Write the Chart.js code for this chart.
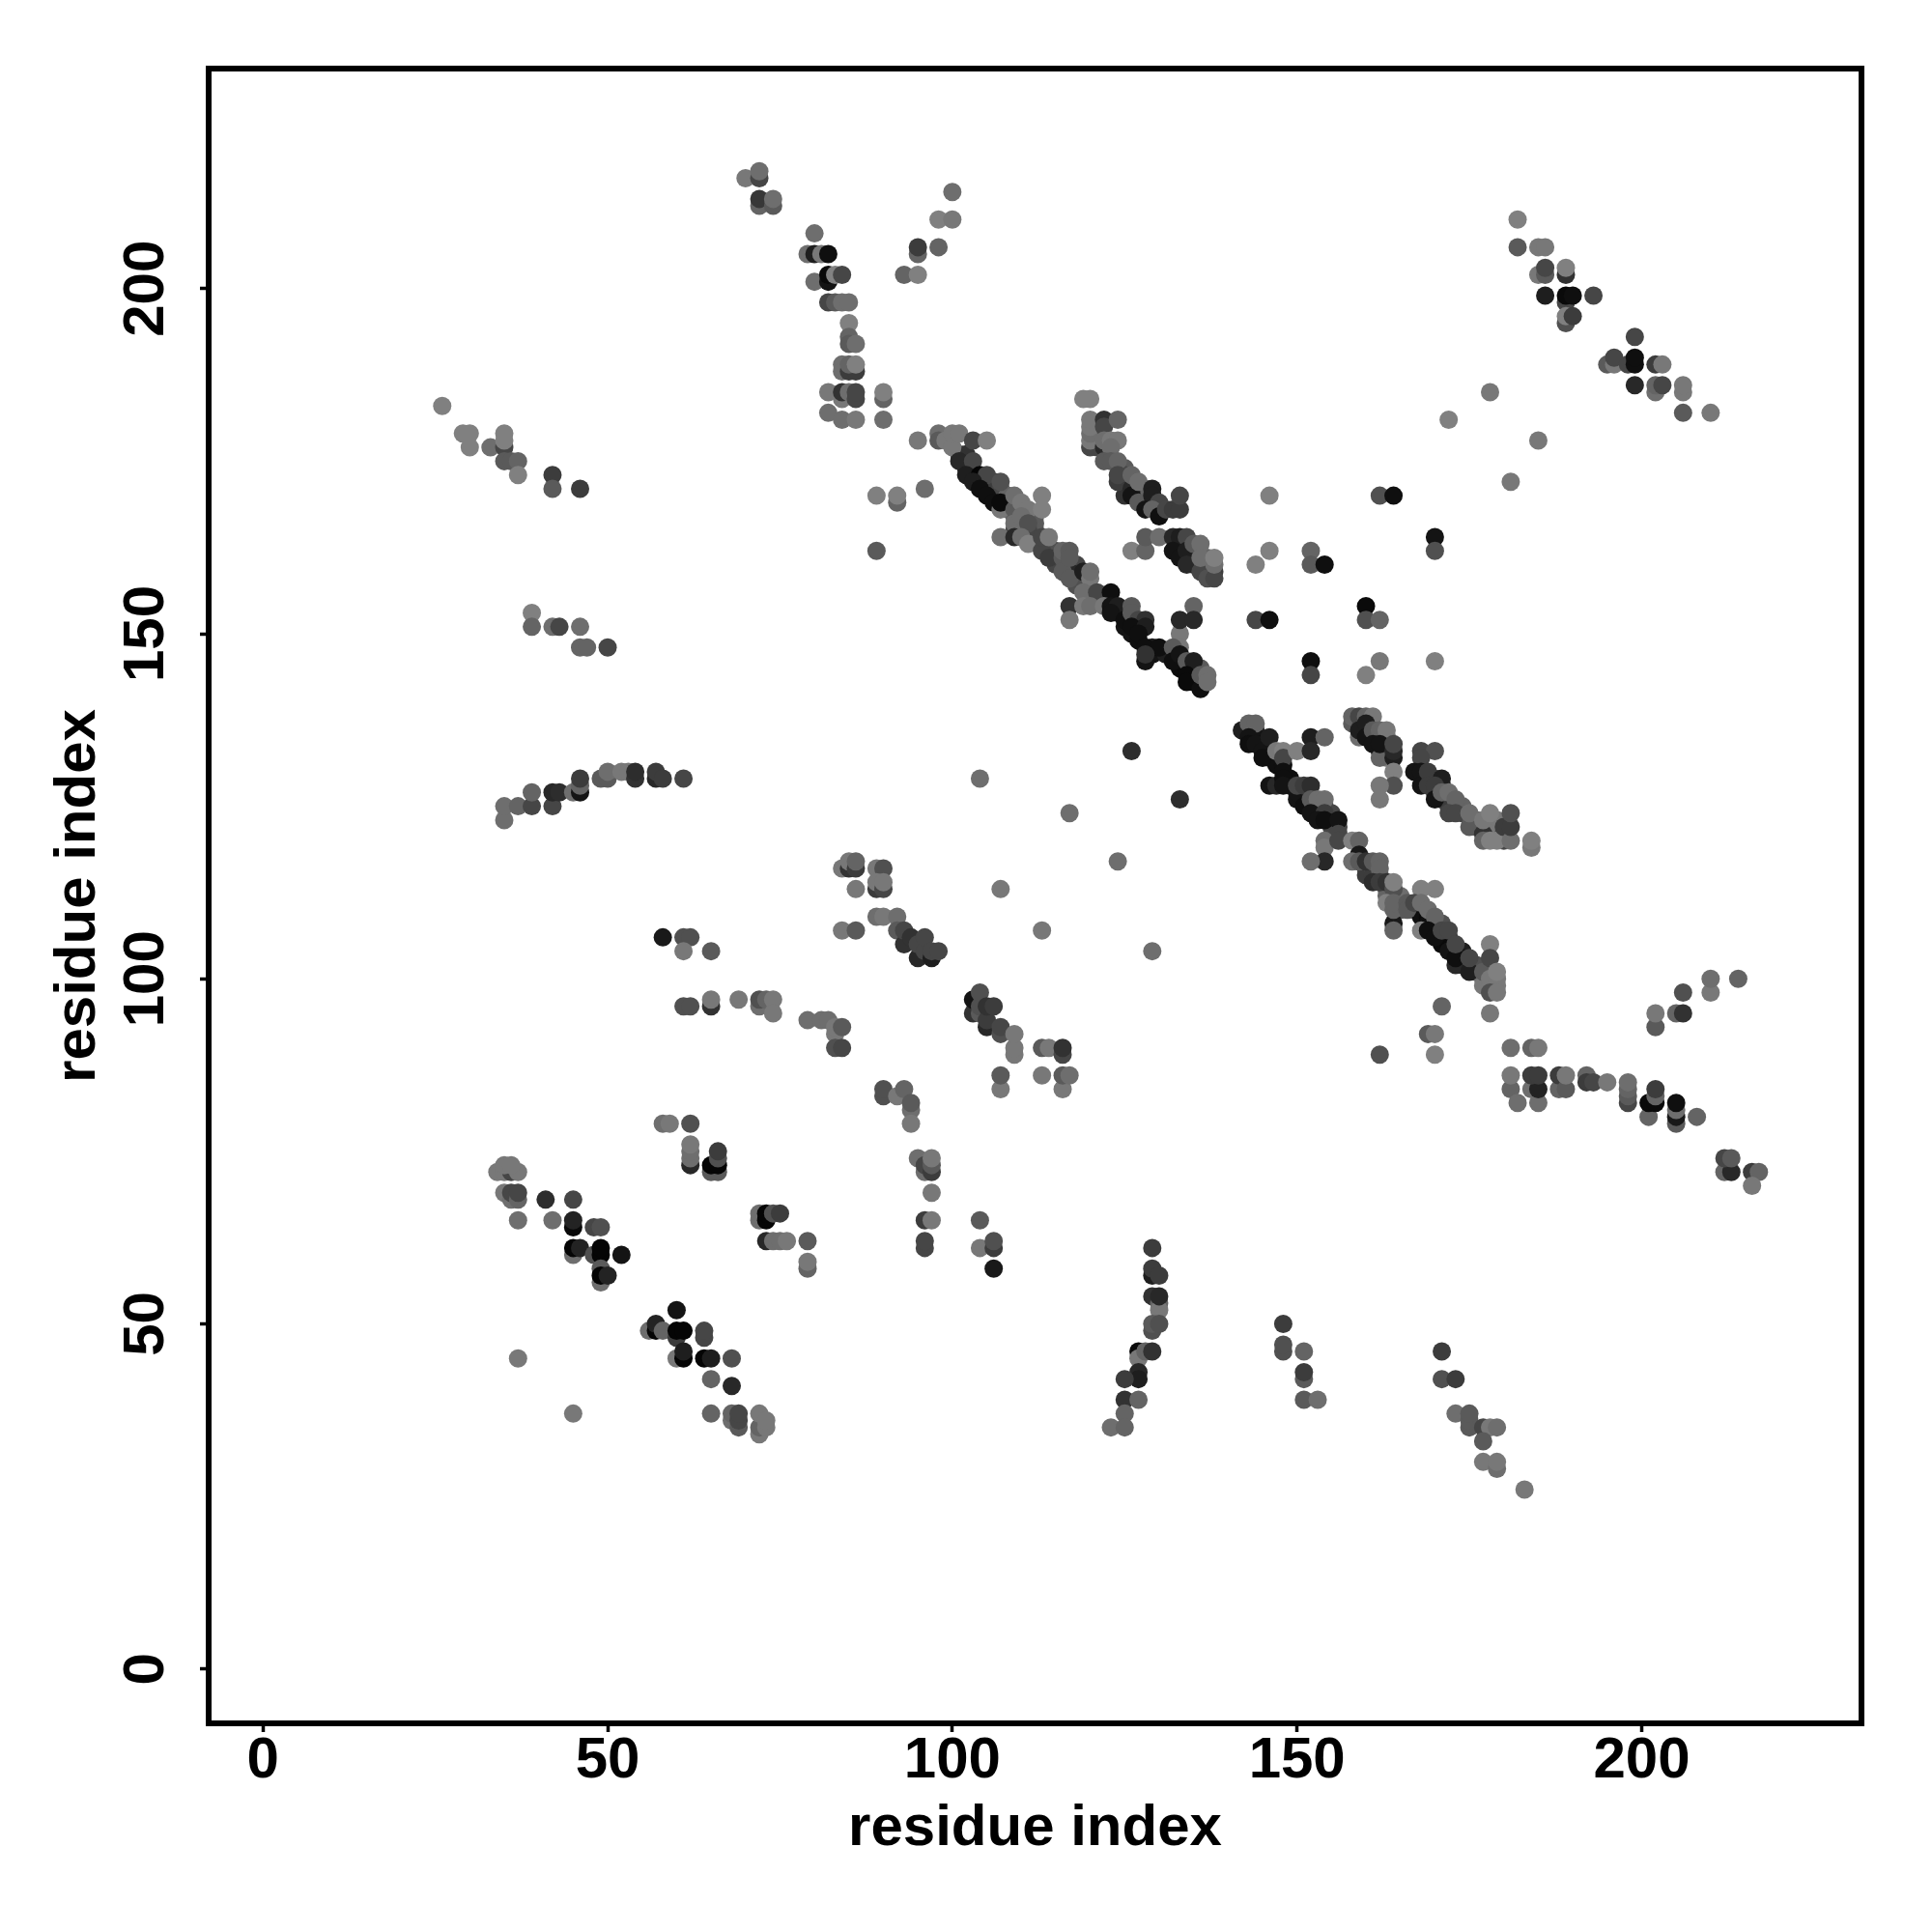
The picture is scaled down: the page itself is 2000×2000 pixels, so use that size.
<!DOCTYPE html>
<html><head><meta charset="utf-8">
<script src="https://cdn.jsdelivr.net/npm/chart.js@4"></script>
<style>html,body{margin:0;padding:0;background:#fff}canvas{display:block}</style>
</head><body><canvas id="c" width="2000" height="2000"></canvas>
<script>
const axisTitle = "residue index";
const tickValues = [0, 50, 100, 150, 200];
const xU1=[101,102,102,103,104,105,106,106,107,107,108,108,108,109,110,110,111,112,112,112,111,109];
const yU1=[176,176,174,173,172,171,171,172,170,171,169,170,168,167,166,168,167,167,165,166,165,165];
const sU1=[60,80,110,115,120,120,60,70,120,60,100,30,20,30,40,20,20,30,50,40,60,60];
const xU2=[115,115,118,118,118,122,124,125,125,126,127,127,129,129,131,133,133,135,135,135,136,136];
const yU2=[160,162,160,158,157,155,153,153,151,150,151,149,148,147,147,146,145,145,143,144,143,145];
const sU2=[60,50,60,80,50,110,110,100,110,110,110,115,100,110,100,115,120,100,120,120,110,40];
const xU3=[144,144,145,146,146,147,147,148,149,149,150,151,151,152,153,153,154,155,155,155,156];
const yU3=[136,135,134,133,132,132,131,131,129,128,126,126,127,125,125,124,125,123,122,124,122];
const sU3=[100,110,115,115,110,110,115,115,115,110,110,110,90,110,100,115,60,100,60,60,60];
const xU4=[160,160,161,161,162,163,163,165,165,165,167,168,168,169,169,170,170,171,171,171,172,172,173,174,174,174,176,176,177,177,178,178,179];
const yU4=[116,115,116,115,115,113,112,111,110,112,110,110,109,109,108,108,107,106,105,108,106,105,104,104,103,102,101,102,100,99,99,101,99];
const sU4=[60,70,60,70,60,60,30,60,40,20,50,110,115,120,115,120,115,120,120,50,110,120,120,100,110,90,60,50,20,10,10,10,10];
const xU5=[125,125,125,125,126,127,127,128,128,128,130,133,133,134,135,135,135,136,137,137,137,138,134,121,121,121,121];
const yU5=[172,174,173,170,172,170,171,170,169,171,168,163,162,161,162,160,161,160,161,160,159,159,163,178,177,180,179];
const sU5=[80,40,60,80,50,100,60,80,100,30,110,110,115,110,90,110,100,90,30,50,60,70,90,70,60,30,50];
const xU6=[159,160,161,162,162,163,163,163,159];
const yU6=[137,136,135,135,133,135,134,133,135];
const sU6=[70,110,110,80,110,30,60,100,20];
const xU7=[169,170,170,171,171,172,172,173,174,174,176,176,177,178,178,178,179,179,180,180];
const yU7=[129,129,127,128,126,126,125,125,124,125,122,123,122,121,122,123,123,121,120,121];
const sU7=[80,60,100,90,110,60,70,60,60,30,40,30,30,10,10,10,10,10,60,60];
const xA=[26,29,30,30,33,35,35,35,35,36,37,37,42,42,46], yA=[183,179,179,177,177,177,179,178,175,175,175,173,173,171,171], sA=[2,2,2,2,20,60,2,2,40,40,30,2,70,40,70];
const xB=[39,39,42,43,46,46,47,50], yB=[153,151,151,151,151,148,148,148], sB=[2,30,20,60,20,30,30,60];
const xC=[70,72,72,72,72,74,74,80,79,80,81,82,80,82,82,83,84,82,83,84,85,85,85,85,86,84,84,85,86,85,86,84,82,84,85,86,86,82,84,86,90,90,90,93,95,95,95,98,98,100,100,95,89,92,92,96,89];
const yC=[216,216,217,212,213,212,213,208,205,205,205,205,201,201,202,202,202,198,198,198,198,195,193,192,192,189,188,188,188,189,189,184,185,185,185,184,185,182,181,181,184,185,181,202,202,205,206,206,210,210,214,178,170,169,170,171,162];
const sC=[10,60,20,30,75,40,20,20,20,100,10,115,20,110,120,0,60,60,40,20,20,2,30,40,20,20,20,70,70,30,2,10,10,80,20,60,60,20,20,10,30,2,20,30,2,30,70,30,2,10,20,10,2,30,2,20,40];
const xD=[98,98,99,100,100,101,103,105,101,103,102,104,105,103,104,105,106,107,107,107,109,109,110,111,113,113,109,110,111,107,109,110,111,113,114,113,114,116,117,116,117,116,117,117,119,120,120,119,121,123,117,117,119,120,122,123,124,123,125,126,126,127,128,126,128,127,128,130,128,128,133,133,135,133,135,132,132,133,134,135,134,134,136,136,137,137];
const yD=[179,178,178,177,179,179,178,178,175,175,173,173,173,172,171,170,169,168,169,172,168,170,169,168,170,168,166,167,166,164,164,164,163,162,161,164,164,161,159,159,158,162,162,161,159,158,159,156,156,156,154,152,154,154,154,154,154,153,152,154,153,152,152,151,151,150,148,148,146,147,150,148,154,152,152,148,146,147,146,146,144,143,142,144,144,143];
const sD=[20,40,10,10,10,10,60,2,90,60,100,125,60,100,115,115,115,10,120,50,40,20,10,10,2,2,20,20,50,20,90,20,2,60,70,60,10,40,90,40,40,30,40,40,100,10,20,20,60,115,80,10,10,20,10,110,100,110,115,40,40,60,80,115,100,115,115,115,110,80,10,10,30,90,90,40,115,110,40,100,120,120,115,40,20,20];
const xE=[119,120,120,120,120,120,120,122,122,122,124,122,123,124,123,122,123,124,124,124,126,126,126,127,127,129,129,130,128,129,130,131,132,133,133,126,128,128,130,132,133,134,132,133,134,134,135,136,136,136,137,138,138,138];
const yE=[184,184,177,178,179,180,181,177,181,180,181,178,178,178,177,175,175,175,172,173,171,170,173,169,172,171,170,169,168,168,167,168,168,168,170,162,162,164,164,164,164,164,162,161,162,160,163,163,159,161,158,158,160,161];
const sE=[2,2,60,10,20,10,10,90,80,60,30,20,10,10,20,40,40,30,70,60,90,110,30,40,20,100,100,60,110,30,115,60,70,70,60,2,30,40,20,90,100,60,110,110,100,90,40,20,60,20,50,60,20,2];
const xF=[146,162,164,146,144,152,152,154,170,170,144,146,160,160,162,152,152,162,170,160,126,104,133,117,172,178,185,181,113,107,124,129];
const yF=[170,170,170,162,160,162,160,160,164,162,152,152,154,152,152,146,144,146,146,144,133,129,126,124,181,185,178,172,107,113,117,104];
const sF=[2,50,115,2,2,30,40,115,110,50,60,115,120,50,30,115,60,10,2,2,85,20,85,20,2,10,10,10,10,10,20,20];
const xG=[142,143,144,143,143,144,145,145,146,147,148,148,150,152,152,154,148,146,147,148,148,150,150,151,152,151,152,153,154,152,154,153,154,156,156,154,154,156,154,152];
const yG=[136,137,137,135,134,134,133,132,135,133,133,132,133,135,133,135,130,128,128,129,128,127,128,128,128,125,126,126,126,124,124,123,123,123,121,120,119,120,117,117];
const sG=[100,30,30,110,115,110,110,115,100,10,2,60,2,100,90,30,115,110,90,115,110,110,60,70,85,115,40,20,20,110,70,110,115,110,60,20,10,60,90,20];
const xH=[158,159,159,158,159,160,161,162,162,161,162,163,164,164,163,164,164,164,164,166,166,168,170,167,168,169,170,168,169,170,171,172,172,173,173,173,175,175,177,178,178,178,179,179,178,179,178,171,169,170,162,170];
const yH=[120,120,118,117,117,117,117,117,116,114,114,114,113,114,111,108,110,111,107,111,110,113,113,111,111,110,109,107,107,106,107,104,107,102,103,105,101,103,101,105,103,100,100,101,98,98,95,96,92,92,89,89];
const sH=[2,30,105,20,40,80,40,30,30,85,70,80,50,2,2,105,30,30,30,40,40,2,2,60,20,20,30,2,115,115,60,110,60,90,115,60,100,60,40,2,60,10,10,2,50,10,10,30,40,10,50,2];
const xI=[158,158,159,159,160,161,160,160,161,162,163,163,161,162,162,164,164,164,164,164,162,162];
const yI=[137,138,138,136,138,138,137,135,136,136,136,132,134,132,134,132,133,134,130,128,128,126];
const sI=[40,30,60,100,30,10,100,110,40,30,10,10,110,30,110,100,90,60,2,50,10,10];
const xJ=[168,170,168,167,168,168,169,171,169,170,170,171,172,173,172,173,175,175,177,177,178,177,178,179,180,181,181,181,184,184];
const yJ=[133,133,132,130,130,128,130,129,128,128,126,127,127,126,124,124,122,124,121,123,124,120,120,120,122,120,122,124,119,120];
const sJ=[60,50,60,110,110,110,70,100,70,70,110,30,20,30,60,60,40,20,80,10,2,30,2,2,70,20,70,50,10,2];
const xK=[181,184,185,181,181,182,184,185,185,184,185,188,188,189,189,192,192,193,195,198,198,198,198,201,201,202,202,202,205,205,205,205,208,202,202,205,206,206,210,210,214,212,213,212,213,216,217,216];
const yK=[90,90,90,84,86,82,84,82,84,86,86,84,86,84,86,86,85,85,85,82,83,84,85,80,82,82,83,84,79,80,81,82,80,93,95,95,95,98,98,100,100,72,72,74,74,72,72,70];
const sK=[20,30,10,30,10,20,20,20,95,70,70,30,70,40,10,30,70,60,10,60,40,30,20,30,120,120,30,70,40,105,20,115,30,40,10,30,80,50,10,20,30,30,90,60,40,70,30,10];
const xL=[182,182,185,186,185,186,186,189,189,186,189,189,190,193,189,189,190,199,195,196,196,198,199,199,202,203,199,202,202,203,206,206,206,210];
const yL=[210,206,206,206,202,202,203,202,203,199,198,199,199,199,195,196,196,193,189,189,190,189,189,190,189,189,186,185,186,186,185,186,182,182];
const sL=[2,40,10,10,10,40,60,80,2,100,60,120,115,60,50,2,70,60,40,10,60,60,115,115,70,10,90,20,30,60,10,10,40,10];
const xM=[35,35,37,39,39,42,42,43,45,46,46,46,49,50,50,52,53,54,54,57,57,58,61];
const yM=[123,125,125,125,127,125,127,127,127,127,128,129,129,129,130,130,130,129,130,129,130,129,129];
const sM=[20,20,30,60,30,60,90,85,20,110,30,70,40,40,20,10,10,80,85,90,70,70,60];
const xN=[58,61,62,61,65,61,62,65,65,69,72,72,73,74,74,79,81,82,83,83,84,83,84];
const yN=[106,106,106,104,104,96,96,96,97,97,96,97,97,97,95,94,94,94,92,93,93,90,90];
const sN=[105,50,50,10,40,50,50,80,10,10,20,50,30,10,10,20,20,20,10,10,40,50,60];
const xO=[84,85,85,86,86,89,90,89,89,90,90,86,84,86,89,90,92,92,93,93,94,95,95,96,96,97,97,98];
const yO=[116,116,117,116,117,116,116,113,114,113,114,113,107,107,109,109,109,107,105,107,106,103,105,104,106,103,104,104];
const sO=[10,80,10,70,30,10,50,70,10,60,10,10,10,40,20,10,20,40,80,60,80,90,60,60,60,100,60,60];
const xP=[103,103,104,104,104,105,105,105,106,107,107,109,109,109,107,107,113,113,114,116,116,116,116,117];
const yP=[95,97,95,96,98,93,94,96,96,92,93,89,90,92,84,86,86,90,90,89,90,84,86,86];
const sP=[80,110,40,50,50,90,70,80,70,50,60,10,10,10,10,40,10,40,10,60,80,10,40,20];
const xQ=[90,90,92,93,94,94,94,95,96,96,97,97,97,97,96,97,96,96];
const yQ=[83,84,83,84,81,82,79,74,72,73,72,73,74,69,65,65,61,62];
const sQ=[50,50,10,30,20,40,10,20,20,60,70,40,10,10,70,10,60,60];
const xR=[34,35,36,37,35,36,35,36,36,37,37,37,41,45,42,45,45,48,49,45,45,46,48,49,49,52,49,49,49,50];
const yR=[72,72,72,72,73,73,69,68,69,68,69,65,68,68,65,64,65,64,64,60,61,61,60,60,61,60,58,56,57,57];
const sR=[10,10,60,10,10,10,10,20,60,30,60,20,85,60,20,120,95,60,50,20,125,95,50,125,125,110,40,20,125,95];
const xS=[56,57,57,58,60,60,60,61,64,64,60,61,61,64,65,68,65,68,37,45,65,68,68,69,69,69,72,72,72,73,73];
const yS=[49,49,50,49,52,48,49,49,48,49,45,45,46,45,45,45,42,41,45,37,37,36,37,35,36,37,34,35,37,35,36];
const sS=[20,125,95,30,110,70,125,125,60,60,10,125,100,125,100,50,30,90,10,10,30,20,30,40,60,60,10,30,10,10,10];
const xT=[58,59,62,62,62,62,62,65,66,65,66,66,66,72,72,73,73,74,75,73,74,75,76,79,79,79];
const yT=[79,79,79,73,74,75,76,72,72,73,73,74,75,65,66,65,66,66,66,62,62,62,62,62,58,59];
const sT=[20,10,50,90,20,20,10,40,40,125,125,50,70,20,20,125,125,50,70,90,20,20,10,40,30,10];
const xU=[104,104,106,106,106], yU=[65,61,61,62,58], sU=[40,10,70,50,105];
const xV=[129,129,129,130,129,130,130,130,129,129,130,127,127,128,129,127,127,125,125,127,125,123,125];
const yV=[61,57,58,57,54,53,52,54,49,50,50,46,45,46,46,43,42,42,39,39,37,35,35];
const sV=[70,100,70,70,80,30,10,90,50,40,50,120,10,30,80,90,100,70,80,30,30,20,30];
const xW=[148,148,148,151,151,151,151,153], yW=[50,46,47,46,42,43,39,39], sW=[70,50,50,30,40,70,40,20];
const xX=[171,171,173,173,175,175,175,177,178,179,177,177,179,179,183];
const yX=[46,42,42,37,35,36,37,35,35,35,33,30,29,30,26];
const sX=[70,50,70,20,40,40,40,60,10,20,40,10,20,10,10];

const xValues = [].concat(xU1,xU2,xU3,xU4,xU5,xU6,xU7,xA,xB,xC,xD,xE,xF,xG,xH,xI,xJ,xK,xL,xM,xN,xO,xP,xQ,xR,xS,xT,xU,xV,xW,xX);
const yValues = [].concat(yU1,yU2,yU3,yU4,yU5,yU6,yU7,yA,yB,yC,yD,yE,yF,yG,yH,yI,yJ,yK,yL,yM,yN,yO,yP,yQ,yR,yS,yT,yU,yV,yW,yX);
const scores  = [].concat(sU1,sU2,sU3,sU4,sU5,sU6,sU7,sA,sB,sC,sD,sE,sF,sG,sH,sI,sJ,sK,sL,sM,sN,sO,sP,sQ,sR,sS,sT,sU,sV,sW,sX);

const points = xValues.map((x,i)=>({x, y:yValues[i]}));
const colours = scores.map(s=>{const g=Math.max(0,130-s);return `rgb(${g},${g},${g})`;});
const font = {family:"'Liberation Sans', Arial, sans-serif", size:60, weight:"bold"};
const setTicks = s => { s.ticks = tickValues.map(v=>({value:v})); };
const frame = {id:"frame", afterDatasetsDraw(ch){const a=ch.chartArea,c=ch.ctx;c.save();c.strokeStyle="#000";c.lineWidth=6;c.strokeRect(a.left,a.top,a.right-a.left,a.bottom-a.top);c.restore();}};
new Chart(document.getElementById("c"),{
  type:"scatter",
  data:{datasets:[{data:points,pointRadius:9.5,pointBorderWidth:0,pointBackgroundColor:colours,showLine:false,clip:false}]},
  plugins:[frame],
  options:{
    responsive:false,animation:false,devicePixelRatio:1,
    layout:{padding:{top:71,right:73,left:0,bottom:0}},
    plugins:{legend:{display:false},tooltip:{enabled:false}},
    scales:{
      x:{type:"linear",min:-7.88,max:231.88,afterBuildTicks:setTicks,afterFit(s){s.height=216;},
        border:{display:false},
        grid:{drawOnChartArea:false,drawTicks:true,tickLength:9,tickWidth:3.5,tickColor:"#000"},
        ticks:{color:"#000",font,padding:-6,maxRotation:0,minRotation:0,autoSkip:false,callback:v=>String(v)},
        title:{display:true,text:axisTitle,color:"#000",font,padding:{top:0,bottom:71}}},
      y:{type:"linear",min:-7.88,max:231.88,afterBuildTicks:setTicks,afterFit(s){s.width=216;},
        border:{display:false},
        grid:{drawOnChartArea:false,drawTicks:true,tickLength:9,tickWidth:3.5,tickColor:"#000"},
        ticks:{color:"#000",font,padding:4,minRotation:90,maxRotation:90,crossAlign:"center",autoSkip:false,callback:v=>String(v)},
        title:{display:true,text:axisTitle,color:"#000",font,padding:{top:45,bottom:0}}}
    }
  }
});
</script></body></html>
